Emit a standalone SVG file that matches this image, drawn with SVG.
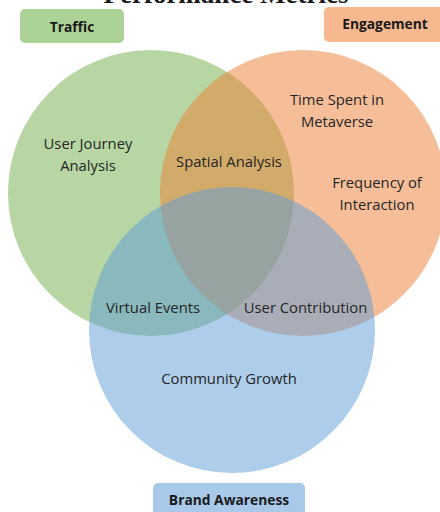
<svg xmlns="http://www.w3.org/2000/svg" width="440" height="512" viewBox="0 0 440 512">
  <style>
    .set { fill-opacity: 0.5; stroke: none; }
    .lbl { font-family: "Open Sans", "Liberation Sans", sans-serif; font-size: 14.8px; fill: #262626; text-anchor: middle; }
    .tag { font-family: "Open Sans", "Liberation Sans", sans-serif; font-size: 13.8px; font-weight: bold; fill: #1a1a1a; text-anchor: middle; }
    .title { font-family: "Liberation Serif", "DejaVu Serif", serif; font-size: 27px; font-weight: bold; fill: #1a1a1a; text-anchor: middle; }
  </style>
  <rect width="440" height="512" fill="#ffffff"/>

  <text class="title" x="226" y="3">Performance Metrics</text>

  <!-- three overlapping sets, blended by transparency -->
  <g id="traffic-set"><circle class="set" cx="151" cy="193" r="143" fill="#70ad47"/></g>
  <g id="engagement-set"><circle class="set" cx="303" cy="193" r="143" fill="#ed7d31"/></g>
  <g id="awareness-set"><circle class="set" cx="232" cy="330" r="143" fill="#5b9bd5"/></g>

  <!-- set captions -->
  <g id="traffic-tag">
    <rect x="20" y="9" width="104" height="34" rx="5" fill="#acd296"/>
    <text class="tag" x="72" y="32">Traffic</text>
  </g>
  <g id="engagement-tag">
    <rect x="324" y="7" width="122" height="35" rx="5" fill="#f5b88f"/>
    <text class="tag" x="385" y="29">Engagement</text>
  </g>
  <g id="awareness-tag">
    <rect x="153" y="483" width="152" height="40" rx="5" fill="#a8c9ea"/>
    <text class="tag" x="229" y="505">Brand Awareness</text>
  </g>

  <!-- region labels -->
  <g id="user-journey"><text class="lbl" x="88" y="149">User Journey</text><text class="lbl" x="88" y="171">Analysis</text></g>
  <g id="spatial-analysis"><text class="lbl" x="229" y="167">Spatial Analysis</text></g>
  <g id="time-spent"><text class="lbl" x="337" y="105">Time Spent in</text><text class="lbl" x="337" y="127">Metaverse</text></g>
  <g id="frequency"><text class="lbl" x="377" y="188">Frequency of</text><text class="lbl" x="377" y="210">Interaction</text></g>
  <g id="virtual-events"><text class="lbl" x="153" y="313">Virtual Events</text></g>
  <g id="user-contribution"><text class="lbl" x="305.5" y="313">User Contribution</text></g>
  <g id="community-growth"><text class="lbl" x="229" y="384">Community Growth</text></g>
</svg>
